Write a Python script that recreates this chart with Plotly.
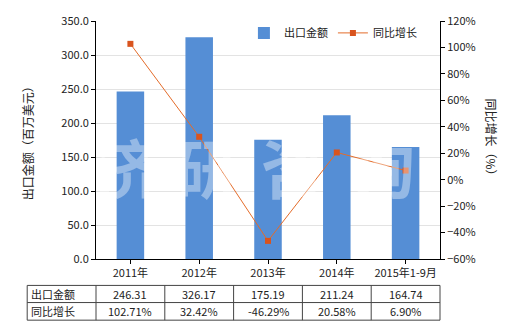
import plotly.graph_objects as go

categories = ["2011年", "2012年", "2013年", "2014年", "2015年1-9月"]
export_values = [246.31, 326.17, 175.19, 211.24, 164.74]
growth_values = [102.71, 32.42, -46.29, 20.58, 6.90]
export_labels = ["246.31", "326.17", "175.19", "211.24", "164.74"]
growth_labels = ["102.71%", "32.42%", "-46.29%", "20.58%", "6.90%"]
row_names = ["出口金额", "同比增长"]
watermark_chars = ["济", "研", "咨", "询"]

FONT = "Noto Sans CJK SC, Microsoft YaHei, sans-serif"
TXT = "#222222"

fig = go.Figure()
fig.add_trace(go.Bar(
    x=categories, y=export_values, name="出口金额",
    marker=dict(color="#558ED5", line=dict(width=0)),
    width=0.4, yaxis="y",
))
fig.add_trace(go.Scatter(
    x=categories, y=growth_values, name="同比增长", yaxis="y2",
    mode="lines+markers",
    line=dict(color="#E46C2A", width=1),
    marker=dict(symbol="square", size=6, color="#D9541E"),
))

fig.update_layout(
    width=520, height=330,
    margin=dict(l=96, r=80, t=19, b=71),
    paper_bgcolor="white", plot_bgcolor="white",
    font=dict(family=FONT, size=11, color=TXT),
    showlegend=True,
    legend=dict(orientation="h", x=0.43, y=0.95, xanchor="left", yanchor="middle",
                bgcolor="rgba(0,0,0,0)", font=dict(size=11, color=TXT),
                itemwidth=30, tracegroupgap=0),
    bargap=0.6,
    xaxis=dict(
        showline=True, linecolor="black", linewidth=1,
        ticks="outside", ticklen=4, tickcolor="black",
        showgrid=False, tickfont=dict(size=11, color=TXT),
        range=[-0.5, 4.5],
    ),
    yaxis=dict(
        range=[0, 350], dtick=50, tickformat=".1f",
        showline=True, linecolor="black", linewidth=1,
        ticks="outside", ticklen=4, tickcolor="black",
        showgrid=True, gridcolor="#E3E3E3", gridwidth=1,
        zeroline=False, tickfont=dict(size=11, color=TXT),
    ),
    yaxis2=dict(
        range=[-60, 120], dtick=20, ticksuffix="%", overlaying="y", side="right",
        showline=True, linecolor="black", linewidth=1,
        ticks="outside", ticklen=4, tickcolor="black",
        showgrid=False, zeroline=False, tickfont=dict(size=11, color=TXT),
    ),
)

annotations = []
# axis titles
annotations.append(dict(text="出口金额（百万美元）", xref="paper", yref="paper",
                        x=-0.2, y=0.5, textangle=-90, showarrow=False,
                        font=dict(size=12, color=TXT), xanchor="center", yanchor="middle"))
annotations.append(dict(text="同比增长（%）", xref="paper", yref="paper",
                        x=1.15, y=0.5, textangle=90, showarrow=False,
                        font=dict(size=12, color=TXT), xanchor="center", yanchor="middle"))
# watermark
wm_x = [0.093, 0.323, 0.573, 0.834]
for ch, xv in zip(watermark_chars, wm_x):
    annotations.append(dict(text="<b>" + ch + "</b>", xref="paper", yref="paper",
                            x=xv, y=0.396, showarrow=False,
                            font=dict(size=64, color="rgba(255,255,255,0.38)", family=FONT),
                            xanchor="center", yanchor="middle"))

# table rows
row_y = [-0.147, -0.22]
for i, name in enumerate(row_names):
    annotations.append(dict(text=name, xref="paper", yref="paper", x=-0.195, y=row_y[i],
                            xanchor="left", yanchor="middle", showarrow=False,
                            font=dict(size=11, color=TXT)))
for j, cat in enumerate(categories):
    annotations.append(dict(text=export_labels[j], xref="x", yref="paper", x=cat, y=row_y[0],
                            showarrow=False, yanchor="middle", font=dict(size=11, color=TXT)))
    annotations.append(dict(text=growth_labels[j], xref="x", yref="paper", x=cat, y=row_y[1],
                            showarrow=False, yanchor="middle", font=dict(size=11, color=TXT)))
fig.update_layout(annotations=annotations)

shapes = []
ty = [-0.111, -0.183, -0.257]
lc = dict(color="#444444", width=1)
for yv in ty:
    shapes.append(dict(type="line", xref="paper", yref="paper", x0=-0.2, x1=1.0, y0=yv, y1=yv, line=lc))
for xv in [-0.2, 0.0, 0.2, 0.4, 0.6, 0.8, 1.0]:
    shapes.append(dict(type="line", xref="paper", yref="paper", x0=xv, x1=xv, y0=ty[0], y1=ty[-1], line=lc))
fig.update_layout(shapes=shapes)

fig.write_html("out.html")
